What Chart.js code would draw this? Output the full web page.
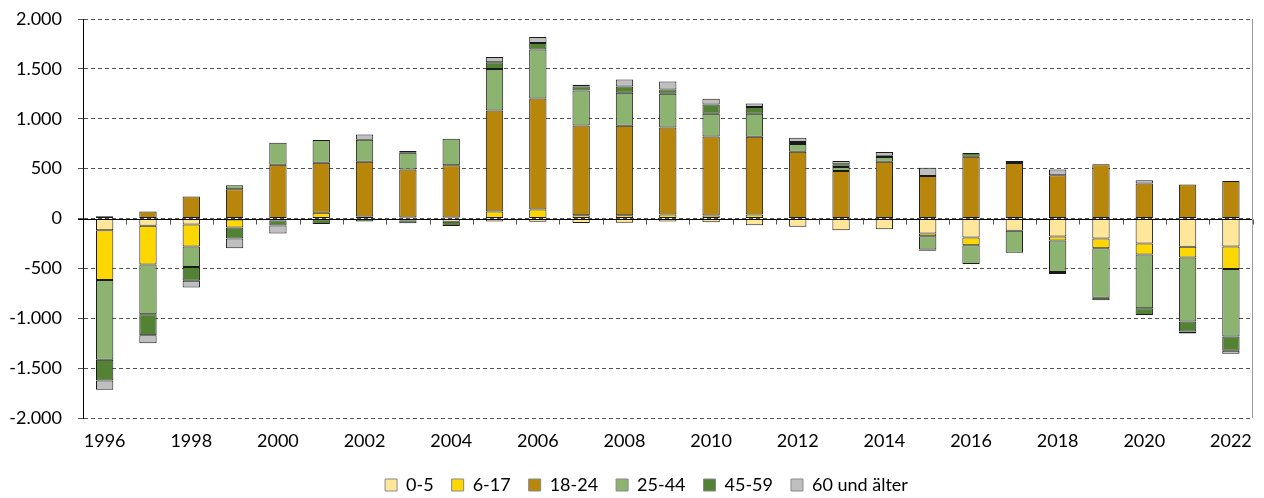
<!DOCTYPE html>
<html lang="de">
<head>
  <meta charset="UTF-8">
  <title>Wanderungssaldo nach Altersgruppen</title>
  <script src="https://cdn.jsdelivr.net/npm/chart.js@4.4.1/dist/chart.umd.min.js"></script>
  <style>
    html, body { margin: 0; padding: 0; background: #fff; }
    #wrap { width: 1264px; height: 498px; position: relative; }
  </style>
</head>
<body>
  <div id="wrap"><canvas id="chart"></canvas></div>

  <script>
    // Data
    const years = ['1996','1997','1998','1999','2000','2001','2002','2003','2004','2005','2006','2007','2008',
                   '2009','2010','2011','2012','2013','2014','2015','2016','2017','2018','2019','2020','2021','2022'];

    const age0to5 = [-117, -73, -60, -10, -10, -10, 0, -20, -33, -30, -33, -45, -43, -30, -37, -67, -83,
                     -117, -107, -150, -190, -123, -180, -200, -250, -283, -280];
    const age6to17 = [-500, -387, -220, -80, -10, 57, 20, 10, 10, 70, 90, 33, 33, 40, 30, 40, 0,
                      0, 0, -27, -77, 0, -40, -97, -110, -107, -227];
    const age18to24 = [23, 70, 220, 293, 540, 503, 550, 480, 523, 1013, 1113, 900, 897, 873, 793, 780, 670,
                       477, 570, 427, 620, 557, 433, 545, 350, 340, 377];
    const age25to44 = [-800, -500, -207, 40, 220, 227, 220, 170, 267, 417, 490, 350, 330, 337, 227, 230, 77,
                       40, 47, -133, -190, -220, -317, -497, -540, -643, -677];
    const age45to59 = [-207, -210, -137, -110, -50, -45, -30, -27, -43, 67, 67, 40, 63, 43, 93, 67, 20,
                       27, 13, -13, 37, 0, -20, -25, -67, -100, -143];
    const age60plus = [-93, -80, -67, -97, -80, 0, 53, 17, 0, 53, 60, 17, 70, 80, 57, 37, 43,
                       33, 37, 83, 0, 20, 57, 0, 33, -20, -30];

    const yTicks = [-2000, -1500, -1000, -500, 0, 500, 1000, 1500, 2000];

    const seriesNames = ['0-5', '6-17', '18-24', '25-44', '45-59', '60 und älter'];
    const seriesData = [age0to5, age6to17, age18to24, age25to44, age45to59, age60plus];
    const seriesColors = ['#FFE699', '#FFD700', '#B8860B', '#8DB371', '#548235', '#BFBFBF'];

    // German thousands separator
    function fmt(v) {
      const s = Math.abs(v).toString().replace(/\B(?=(\d{3})+(?!\d))/g, '.');
      return (v < 0 ? '-' : '') + s;
    }

    // zero line, small ticks between the bars, right frame; legend nudged right
    const zeroLine = {
      id: 'zeroLine',
      afterLayout(chart) {
        if (chart.legend) {
          chart.legend.left += 20;
          chart.legend.right += 20;
        }
      },
      afterDatasetsDraw(chart) {
        const { ctx, chartArea, scales: { x, y } } = chart;
        const y0 = Math.round(y.getPixelForValue(0)) + 0.5;
        ctx.save();
        ctx.lineWidth = 1;
        ctx.strokeStyle = '#000';
        ctx.beginPath();
        ctx.moveTo(chartArea.left - 5, y0);
        ctx.lineTo(chartArea.right, y0);
        ctx.stroke();

        ctx.strokeStyle = '#555';
        ctx.beginPath();
        for (let i = 1; i <= years.length; i++) {
          const px = Math.round(x.getPixelForValue(i - 0.5)) + 0.5;
          ctx.moveTo(px, y0);
          ctx.lineTo(px, y0 + 5);
        }
        ctx.stroke();

        ctx.strokeStyle = '#999';
        ctx.beginPath();
        const rx = Math.round(chartArea.right) - 0.5;
        ctx.moveTo(rx, chartArea.top);
        ctx.lineTo(rx, chartArea.bottom);
        ctx.stroke();
        ctx.restore();
      }
    };

    Chart.defaults.font.family = 'Lato, "Open Sans", sans-serif';
    Chart.defaults.font.size = 18;
    Chart.defaults.color = '#000';

    new Chart(document.getElementById('chart'), {
      type: 'bar',
      data: {
        labels: years,
        datasets: seriesNames.map((name, i) => ({
          label: name,
          data: seriesData[i],
          backgroundColor: seriesColors[i],
          borderColor: '#1a1a1a',
          borderWidth: c => (c.raw === 0 ? 0 : 1),
          borderSkipped: false,
          categoryPercentage: 1,
          barPercentage: 0.4
        }))
      },
      options: {
        responsive: true,
        maintainAspectRatio: false,
        animation: false,
        layout: { padding: { top: 19, right: 11, bottom: 0, left: 0 } },
        scales: {
          x: {
            stacked: true,
            offset: true,
            grid: { display: false, drawTicks: false },
            border: { display: false },
            afterFit: scale => { scale.height = 40; },
            ticks: {
              autoSkip: false,
              maxRotation: 0,
              padding: 12,
              callback: (v, i) => (i % 2 === 0 ? years[i] : '')
            }
          },
          y: {
            stacked: true,
            min: yTicks[0],
            max: yTicks[yTicks.length - 1],
            afterBuildTicks: scale => { scale.ticks = yTicks.map(v => ({ value: v })); },
            afterFit: scale => {
              scale.width = 83;
              scale.paddingTop = 0;
              scale.paddingBottom = 0;
            },
            grid: { color: '#555', tickLength: 5, tickColor: '#555' },
            border: { display: true, color: '#000', dash: [4, 3] },
            ticks: { padding: 16, callback: v => fmt(v) }
          }
        },
        plugins: {
          legend: {
            position: 'bottom',
            maxHeight: 40,
            labels: {
              boxWidth: 12,
              boxHeight: 12,
              padding: 18,
              generateLabels: chart =>
                Chart.defaults.plugins.legend.labels.generateLabels(chart).map(l => ({
                  ...l, strokeStyle: '#888', lineWidth: 1
                }))
            }
          },
          tooltip: { enabled: false }
        }
      },
      plugins: [zeroLine]
    });
  </script>
</body>
</html>
